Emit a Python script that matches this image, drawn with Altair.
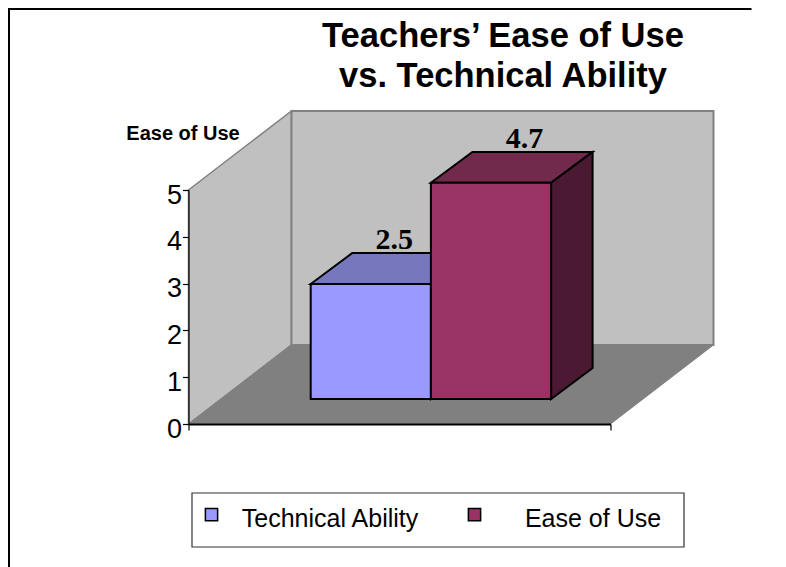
import altair as alt
import pandas as pd

# Chart content
series = ["Technical Ability", "Ease of Use"]
values = [2.5, 4.7]
y_ticks = [0, 1, 2, 3, 4, 5]
title_lines = ["Teachers\u2019 Ease of Use", "vs. Technical Ability"]
y_title = "Ease of Use"
front_colors = ["#9999FF", "#993366"]
top_colors = ["#7777BD", "#722A4C"]
side_colors = ["#4C4C80", "#4C1933"]

# 3-D projection, in axis units (x: 0..422, y: value)
PLOT_W, PLOT_H = 422, 234
WALL_DX, WALL_DY = 103, 1.69
BAR_X0, BAR_W = 122.2, 120.2
BAR_BASE = 0.534
BAR_DX, BAR_DY = 41.5, 0.66
BAR_SCALE = 0.983
LABEL_SHIFT = [-18, -8]
LABEL_GAP = 0.085

x_scale = alt.Scale(domain=[0, PLOT_W], nice=False, zero=False)
y_scale = alt.Scale(domain=[0, 5], nice=False, zero=False)

x_axis = alt.Axis(
    values=[0, PLOT_W],
    labels=False,
    grid=False,
    zindex=1,
    domainColor="black",
    domainWidth=2,
    tickColor="black",
    tickWidth=1.2,
    tickSize=6,
)
y_axis = alt.Axis(
    values=y_ticks,
    format="d",
    grid=False,
    zindex=1,
    domainColor="black",
    domainWidth=1.2,
    tickColor="black",
    tickWidth=1.2,
    tickSize=6,
    labelFont="Liberation Sans",
    labelFontSize=27,
    labelColor="black",
    labelPadding=1,
    labelOffset=5,
    titleFont="Liberation Sans",
    titleFontWeight="bold",
    titleFontSize=20,
    titleColor="black",
    titleAngle=0,
    titleAlign="center",
    titleBaseline="middle",
    titleX=-6,
    titleY=-57,
)


def X(field):
    return alt.X(field, scale=x_scale, axis=x_axis, title=None)


def Y(field):
    return alt.Y(field, scale=y_scale, axis=y_axis, title=y_title)


def poly(x, y, y2, fill, stroke, sw):
    df = pd.DataFrame({"x": x, "y": y, "y2": y2})
    return alt.Chart(df).mark_area(
        orient="vertical", fill=fill, stroke=stroke, strokeWidth=sw, opacity=1
    ).encode(x=X("x:Q"), y=Y("y:Q"), y2="y2:Q")


# Walls and floor
left_wall = poly([0, WALL_DX], [5, 5 + WALL_DY], [0, WALL_DY], "#C0C0C0", "#808080", 1.5)
back_wall = poly(
    [WALL_DX, PLOT_W + WALL_DX], [5 + WALL_DY] * 2, [WALL_DY] * 2, "#C0C0C0", "#808080", 2
)
floor = poly(
    [0, WALL_DX, PLOT_W, PLOT_W + WALL_DX],
    [0, WALL_DY, WALL_DY, WALL_DY],
    [0, 0, 0, WALL_DY],
    "#808080",
    "#808080",
    1,
)

faces = []
rows = []
labels = []
for i, (s, v) in enumerate(zip(series, values)):
    x0 = BAR_X0 + i * BAR_W
    x1 = x0 + BAR_W
    top = BAR_BASE + v * BAR_SCALE
    faces.append(
        poly(
            [x0, x0 + BAR_DX, x1, x1 + BAR_DX],
            [top, top + BAR_DY, top + BAR_DY, top + BAR_DY],
            [top, top, top, top + BAR_DY],
            top_colors[i],
            "black",
            2,
        )
    )
    faces.append(
        poly(
            [x1, x1 + BAR_DX],
            [top, top + BAR_DY],
            [BAR_BASE, BAR_BASE + BAR_DY],
            side_colors[i],
            "black",
            2,
        )
    )
    rows.append({"series": s, "x0": x0, "x1": x1, "y0": BAR_BASE, "y1": top})
    labels.append(
        {
            "x": (x0 + BAR_DX + x1 + BAR_DX) / 2 + LABEL_SHIFT[i],
            "y": top + BAR_DY + LABEL_GAP,
            "t": str(v),
        }
    )

front = (
    alt.Chart(pd.DataFrame(rows))
    .mark_rect(stroke="black", strokeWidth=2, opacity=1)
    .encode(
        x=X("x0:Q"),
        x2="x1:Q",
        y=Y("y0:Q"),
        y2="y1:Q",
        color=alt.Color(
            "series:N",
            scale=alt.Scale(domain=series, range=front_colors),
            sort=series,
            legend=alt.Legend(
                title=None,
                orient="none",
                legendX=3.5,
                legendY=304.5,
                direction="horizontal",
                columns=2,
                padding=12,
                symbolType="M-1,-1.74H1V0.26H-1Z",
                symbolSize=150,
                symbolOffset=-5,
                symbolStrokeColor="black",
                symbolStrokeWidth=1.5,
                labelFont="Liberation Sans",
                labelFontSize=25,
                labelColor="black",
                labelAlign="center",
                labelOffset=106,
                labelLimit=400,
                columnPadding=46,
                rowPadding=0,
            ),
        ),
    )
)

value_labels = (
    alt.Chart(pd.DataFrame(labels))
    .mark_text(
        font="Liberation Serif",
        fontWeight="bold",
        fontSize=30,
        baseline="alphabetic",
        align="center",
        color="black",
    )
    .encode(x=X("x:Q"), y=Y("y:Q"), text="t:N")
)

# Outer frame of the picture
frame_left = (
    alt.Chart(pd.DataFrame({"x": [-179.5], "y": [8.9], "y2": [-3.1]}))
    .mark_rule(color="black", strokeWidth=2)
    .encode(x=X("x:Q"), y=Y("y:Q"), y2="y2:Q")
)
frame_top = (
    alt.Chart(pd.DataFrame({"x": [-179.5], "x2": [563], "y": [8.87]}))
    .mark_rule(color="black", strokeWidth=2)
    .encode(x=X("x:Q"), x2="x2:Q", y=Y("y:Q"))
)

# Box behind the legend
legend_box = (
    alt.Chart(pd.DataFrame({"x": [3.5], "x2": [495.5], "y": [-1.474], "y2": [-2.628]}))
    .mark_rect(fill="white", stroke="#333333", strokeWidth=1.2)
    .encode(x=X("x:Q"), x2="x2:Q", y=Y("y:Q"), y2="y2:Q")
)

chart = (
    alt.layer(
        frame_left,
        frame_top,
        legend_box,
        left_wall,
        back_wall,
        floor,
        *faces,
        front,
        value_labels,
    )
    .properties(
        width=PLOT_W,
        height=PLOT_H,
        padding={"left": 180.5, "top": 182, "right": 167.5, "bottom": 143},
        autosize=alt.AutoSizeParams(type="none"),
        background="white",
        title=alt.TitleParams(
            text=title_lines,
            anchor="middle",
            dx=103.5,
            offset=-88,
            font="Liberation Sans",
            fontWeight="bold",
            fontSize=34.5,
            lineHeight=40,
            color="black",
        ),
    )
    .configure_view(stroke=None)
)

chart.save("out.html", embed_options={"renderer": "svg", "actions": False})
